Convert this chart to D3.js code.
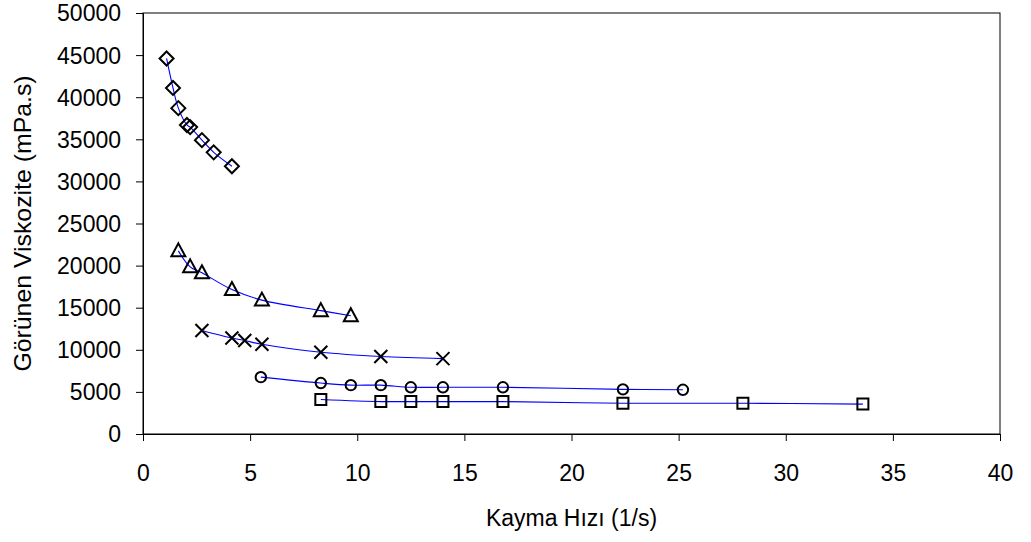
<!DOCTYPE html>
<html>
<head>
<meta charset="utf-8">
<script src="https://cdn.jsdelivr.net/npm/d3@7"></script>
<style>
  body { margin: 0; background: #fff; }
  text { font-family: "Liberation Sans", Arial, sans-serif; }
</style>
</head>
<body>
<div id="chart"></div>
<script>
// data
var diamondX = [1.1, 1.4, 1.65, 2.05, 2.2, 2.75, 3.3, 4.15];
var diamondY = [44600, 41100, 38700, 36700, 36450, 34900, 33450, 31800];

var triangleX = [1.65, 2.2, 2.75, 4.15, 5.55, 8.3, 9.7];
var triangleY = [21750, 19850, 19150, 17150, 15900, 14650, 14050];

var crossX = [2.75, 4.15, 4.75, 5.55, 8.3, 11.1, 14.0];
var crossY = [12300, 11400, 11100, 10650, 9700, 9200, 8950];

var circleX = [5.5, 8.3, 9.7, 11.1, 12.5, 14.0, 16.8, 22.4, 25.2];
var circleY = [6750, 6050, 5800, 5800, 5550, 5550, 5550, 5300, 5250];

var squareX = [8.3, 11.1, 12.5, 14.0, 16.8, 22.4, 28.0, 33.6];
var squareY = [4100, 3850, 3850, 3850, 3850, 3650, 3650, 3550];

var xTicks = [0, 5, 10, 15, 20, 25, 30, 35, 40];
var yTicks = [0, 5000, 10000, 15000, 20000, 25000, 30000, 35000, 40000, 45000, 50000];

// set the dimensions and margins of the graph
var margin = {top: 13, right: 31, bottom: 108, left: 143},
    width = 1031 - margin.left - margin.right,
    height = 542 - margin.top - margin.bottom;

var fs = 23;        // font size
var stretch = 1.08; // text in the picture is drawn a bit tall

var svg = d3.select("#chart")
  .append("svg")
    .attr("width", 1031)
    .attr("height", 542)
  .append("g")
    .attr("transform", "translate(" + margin.left + "," + margin.top + ")");

var x = d3.scaleLinear().domain([0, 40]).range([0, width]);
var y = d3.scaleLinear().domain([0, 50000]).range([height, 0]);

// frame
svg.append("rect")
  .attr("x", 0).attr("y", 0)
  .attr("width", width).attr("height", height)
  .attr("fill", "none")
  .attr("stroke", "black")
  .attr("stroke-width", 1);

// X axis
var xAxis = svg.append("g")
  .attr("transform", "translate(0," + height + ")")
  .call(d3.axisBottom(x).tickValues(xTicks).tickSize(7));
xAxis.selectAll("text")
  .attr("y", 0).attr("dy", 0)
  .attr("transform", "translate(0,47) scale(1," + stretch + ")")
  .style("font-size", fs + "px")
  .attr("fill", "black");

// Y axis
var yAxis = svg.append("g")
  .call(d3.axisLeft(y).tickValues(yTicks).tickSize(7).tickPadding(15).tickFormat(d3.format("d")));
yAxis.selectAll("text")
  .attr("transform", "scale(1," + stretch + ")")
  .style("font-size", fs + "px")
  .attr("fill", "black");

svg.selectAll(".domain").attr("stroke", "black");
svg.selectAll(".tick line").attr("stroke", "black");

// axis labels
svg.append("text")
  .attr("text-anchor", "middle")
  .attr("transform", "translate(" + (width / 2) + "," + (height + 92) + ") scale(1," + stretch + ")")
  .style("font-size", fs + "px")
  .text("Kayma Hızı (1/s)");

svg.append("text")
  .attr("text-anchor", "middle")
  .attr("transform", "translate(-112," + (height / 2) + ") rotate(-90) scale(" + stretch + ",1)")
  .style("font-size", fs + "px")
  .text("Görünen Viskozite (mPa.s)");

var series = [
  {xs: diamondX, ys: diamondY, shape: "diamond"},
  {xs: triangleX, ys: triangleY, shape: "triangle"},
  {xs: crossX, ys: crossY, shape: "cross"},
  {xs: circleX, ys: circleY, shape: "circle"},
  {xs: squareX, ys: squareY, shape: "square"}
];

var line = d3.line()
  .x(function(d) { return x(d[0]); })
  .y(function(d) { return y(d[1]); })
  .curve(d3.curveCatmullRom.alpha(0.5));

function markerPath(shape) {
  if (shape === "diamond") return "M0,-7L7,0L0,7L-7,0Z";
  if (shape === "triangle") return "M0,-7.5L7,5.5L-7,5.5Z";
  if (shape === "cross") return "M-6.5,-6.5L6.5,6.5M6.5,-6.5L-6.5,6.5";
  if (shape === "square") return "M-5.5,-5.5H5.5V5.5H-5.5Z";
  return "M5.2,0A5.2,5.2 0 1 1 -5.2,0A5.2,5.2 0 1 1 5.2,0Z";
}

series.forEach(function(s) {
  var pts = s.xs.map(function(v, i) { return [v, s.ys[i]]; });

  svg.append("path")
    .datum(pts)
    .attr("d", line)
    .attr("fill", "none")
    .attr("stroke", "#0000ff")
    .attr("stroke-width", 1.1);

  svg.selectAll(null)
    .data(pts)
    .enter()
    .append("path")
      .attr("transform", function(d) { return "translate(" + x(d[0]) + "," + y(d[1]) + ")"; })
      .attr("d", markerPath(s.shape))
      .attr("fill", "none")
      .attr("stroke", "black")
      .attr("stroke-width", 2);
});
</script>
</body>
</html>
